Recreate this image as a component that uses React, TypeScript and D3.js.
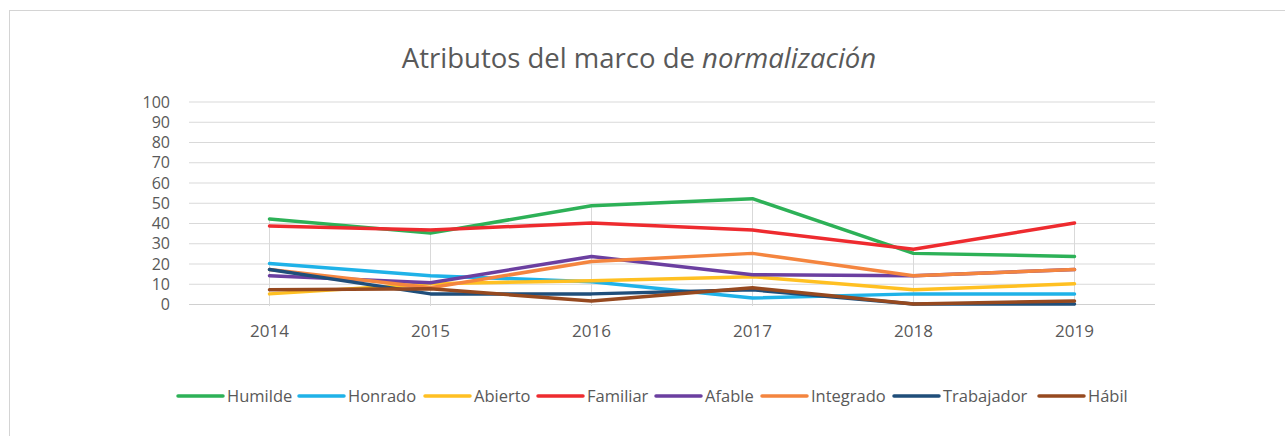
import React from 'react';
import * as d3 from 'd3';

const years = ['2014', '2015', '2016', '2017', '2018', '2019'];
const seriesNames = ['Humilde', 'Honrado', 'Abierto', 'Familiar', 'Afable', 'Integrado', 'Trabajador', 'Hábil'];
const seriesColors = ['#2DB157', '#1FB2E8', '#FFC022', '#EE2B2F', '#6B3FA0', '#F4853F', '#1F4E7A', '#96491F'];

const humilde = [42, 35, 48.5, 52, 25, 23.5];
const honrado = [20, 14, 11, 3, 5, 5];
const abierto = [5, 10, 11.5, 13.5, 7, 10];
const familiar = [38.5, 36.5, 40, 36.5, 27, 40];
const afable = [14, 10.5, 23.5, 14.5, 14, 17];
const integrado = [17, 8, 21, 25, 14, 17];
const trabajador = [17, 5, 5, 7, 0, 0];
const habil = [7, 7.5, 1.5, 8, 0, 1.5];

const yTicks = [0, 10, 20, 30, 40, 50, 60, 70, 80, 90, 100];

const allSeries = [humilde, honrado, abierto, familiar, afable, integrado, trabajador, habil];

const width = 1285;
const height = 436;
const textColor = '#595959';
const font = '"Open Sans", "Liberation Sans", sans-serif';

function App() {
  const x = d3.scaleBand().domain(years).range([189, 1155]);
  const y = d3.scaleLinear().domain([0, 100]).range([304, 101.5]);
  const cx = (yr: string) => (x(yr) as number) + x.bandwidth() / 2;

  const line = d3
    .line<number>()
    .x((_, i) => cx(years[i]))
    .y((d) => y(d));

  // drop lines go from the highest value of each year to the axis
  const maxByYear = years.map((_, i) => d3.max(allSeries, (s) => s[i]) as number);

  // legend entries, left edge of each swatch
  const legendX = [178, 299, 425, 538, 656, 762, 894, 1039];

  return (
    <svg
      width={width}
      height={height}
      style={{ position: 'absolute', left: 0, top: 0, background: '#fff' }}
    >
      <rect x={9.5} y={10.5} width={1300} height={440} fill="#fff" stroke="#d4d4d4" />
      <text x={639} y={68} textAnchor="middle" fontFamily={font} fontSize={27.5} fill={textColor}>
        Atributos del marco de <tspan fontStyle="italic">normalización</tspan>
      </text>

      {yTicks.map((t) => (
        <g key={t}>
          <line x1={189} x2={1155} y1={y(t) + 0.5} y2={y(t) + 0.5} stroke={t === 0 ? '#d0d0d0' : '#d9d9d9'} strokeWidth={1} />
          <text x={170} y={y(t) + 6} textAnchor="end" fontFamily={font} fontSize={16} fill={textColor}>
            {t}
          </text>
        </g>
      ))}

      {years.map((yr, i) => (
        <g key={yr}>
          <line x1={cx(yr)} x2={cx(yr)} y1={y(maxByYear[i])} y2={y(0) + 2} stroke="#d9d9d9" />
          <text x={cx(yr)} y={337} textAnchor="middle" fontFamily={font} fontSize={17} fill={textColor}>
            {yr}
          </text>
        </g>
      ))}

      {allSeries.map((s, i) => (
        <path
          key={seriesNames[i]}
          d={line(s) as string}
          fill="none"
          stroke={seriesColors[i]}
          strokeWidth={3.5}
          strokeLinejoin="round"
          strokeLinecap="round"
        />
      ))}

      {seriesNames.map((n, i) => (
        <g key={n} transform={`translate(${legendX[i]},396)`}>
          <line x1={0} x2={45} y1={0} y2={0} stroke={seriesColors[i]} strokeWidth={3.5} strokeLinecap="round" />
          <text x={49} y={6} fontFamily={font} fontSize={16.5} fill={textColor}>
            {n}
          </text>
        </g>
      ))}
    </svg>
  );
}

export default App;
